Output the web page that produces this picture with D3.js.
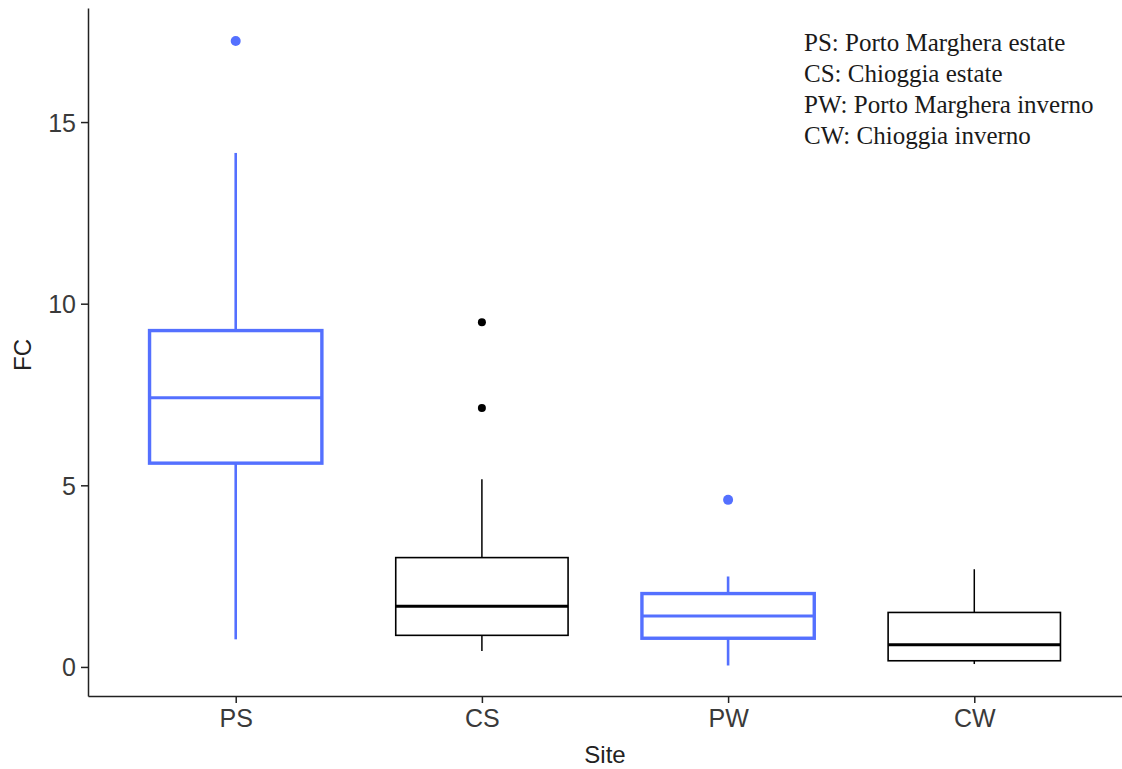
<!DOCTYPE html>
<html>
<head>
<meta charset="utf-8">
<script src="https://cdn.jsdelivr.net/npm/d3@7"></script>
<style>
  body { margin: 0; background: #fff; }
  .axis text { font-family: "Liberation Sans", Arial, sans-serif; font-size: 25px; fill: #3a3a3a; }
  .axis path, .axis line { stroke: #222; stroke-width: 1.5px; }
  .label { font-family: "Liberation Sans", Arial, sans-serif; font-size: 24px; fill: #222; }
  .note { font-family: "Liberation Serif", "Times New Roman", serif; font-size: 25px; fill: #1a1a1a; }
</style>
</head>
<body>
<script>
// values
var sites = ["PS", "CS", "PW", "CW"];
var whiskerLow  = [0.76, 0.44, 0.04, 0.08];
var q1          = [5.61, 0.87, 0.79, 0.17];
var median      = [7.41, 1.67, 1.40, 0.61];
var q3          = [9.26, 3.01, 2.02, 1.50];
var whiskerHigh = [14.15, 5.17, 2.49, 2.69];
var outliers    = [[17.23], [9.49, 7.13], [4.60], []];
var yTicks = [0, 5, 10, 15];
var notes = ["PS: Porto Marghera estate", "CS: Chioggia estate",
             "PW: Porto Marghera inverno", "CW: Chioggia inverno"];

var blue = "#5470ff";
var colorOf = function(i) { return i % 2 === 0 ? blue : "#000"; };

var margin = {top: 8, right: 0, bottom: 73, left: 88},
    width = 1122 - margin.left - margin.right,
    height = 769 - margin.top - margin.bottom;

var x = d3.scalePoint()
    .domain(sites)
    .range([0, width])
    .padding(0.6);

var y = d3.scaleLinear()
    .domain([-0.8, 18.14])
    .range([height, 0]);

var boxW = x.step() * 0.7;

var svg = d3.select("body").append("svg")
    .attr("width", width + margin.left + margin.right)
    .attr("height", height + margin.top + margin.bottom)
  .append("g")
    .attr("transform", "translate(" + margin.left + "," + margin.top + ")");

var data = sites.map(function(s, i) {
  return {site: s, lo: whiskerLow[i], q1: q1[i], med: median[i], q3: q3[i],
          hi: whiskerHigh[i], out: outliers[i], color: colorOf(i), thick: i % 2 === 0};
});

var box = svg.selectAll(".box")
    .data(data)
  .enter().append("g")
    .attr("class", "box");

// whiskers
box.append("line")
    .attr("x1", function(d) { return x(d.site); })
    .attr("x2", function(d) { return x(d.site); })
    .attr("y1", function(d) { return y(d.hi); })
    .attr("y2", function(d) { return y(d.q3); })
    .style("stroke", function(d) { return d.color; })
    .style("stroke-width", function(d) { return d.thick ? 2.6 : 1.5; });

box.append("line")
    .attr("x1", function(d) { return x(d.site); })
    .attr("x2", function(d) { return x(d.site); })
    .attr("y1", function(d) { return y(d.q1); })
    .attr("y2", function(d) { return y(d.lo); })
    .style("stroke", function(d) { return d.color; })
    .style("stroke-width", function(d) { return d.thick ? 2.6 : 1.5; });

box.append("rect")
    .attr("x", function(d) { return x(d.site) - boxW / 2; })
    .attr("width", boxW)
    .attr("y", function(d) { return y(d.q3); })
    .attr("height", function(d) { return y(d.q1) - y(d.q3); })
    .style("fill", "none")
    .style("stroke", function(d) { return d.color; })
    .style("stroke-width", function(d) { return d.thick ? 3.4 : 1.6; });

box.append("line")
    .attr("x1", function(d) { return x(d.site) - boxW / 2; })
    .attr("x2", function(d) { return x(d.site) + boxW / 2; })
    .attr("y1", function(d) { return y(d.med); })
    .attr("y2", function(d) { return y(d.med); })
    .style("stroke", function(d) { return d.color; })
    .style("stroke-width", 3);

box.selectAll(".dot")
    .data(function(d) { return d.out.map(function(v) { return {site: d.site, v: v, color: d.color, thick: d.thick}; }); })
  .enter().append("circle")
    .attr("class", "dot")
    .attr("cx", function(d) { return x(d.site); })
    .attr("cy", function(d) { return y(d.v); })
    .attr("r", function(d) { return d.thick ? 5 : 4; })
    .style("fill", function(d) { return d.color; });

// axes
svg.append("g")
    .attr("class", "x axis")
    .attr("transform", "translate(0," + height + ")")
    .call(d3.axisBottom(x).tickSize(7).tickSizeOuter(0).tickPadding(6));

svg.append("g")
    .attr("class", "y axis")
    .call(d3.axisLeft(y).tickValues(yTicks).tickSize(7).tickSizeOuter(0).tickPadding(5));

svg.selectAll(".y.axis text").attr("dy", "0.36em");

svg.append("text")
    .attr("class", "label")
    .attr("x", 605 - margin.left)
    .attr("y", height + 67)
    .style("text-anchor", "middle")
    .text("Site");

svg.append("text")
    .attr("class", "label")
    .attr("transform", "rotate(-90)")
    .attr("x", -(355 - margin.top))
    .attr("y", -margin.left + 31)
    .style("text-anchor", "middle")
    .text("FC");

// legend notes
svg.selectAll(".note")
    .data(notes)
  .enter().append("text")
    .attr("class", "note")
    .attr("x", 804 - margin.left)
    .attr("y", function(d, i) { return 51 - margin.top + i * 31; })
    .text(function(d) { return d; });
</script>
</body>
</html>
